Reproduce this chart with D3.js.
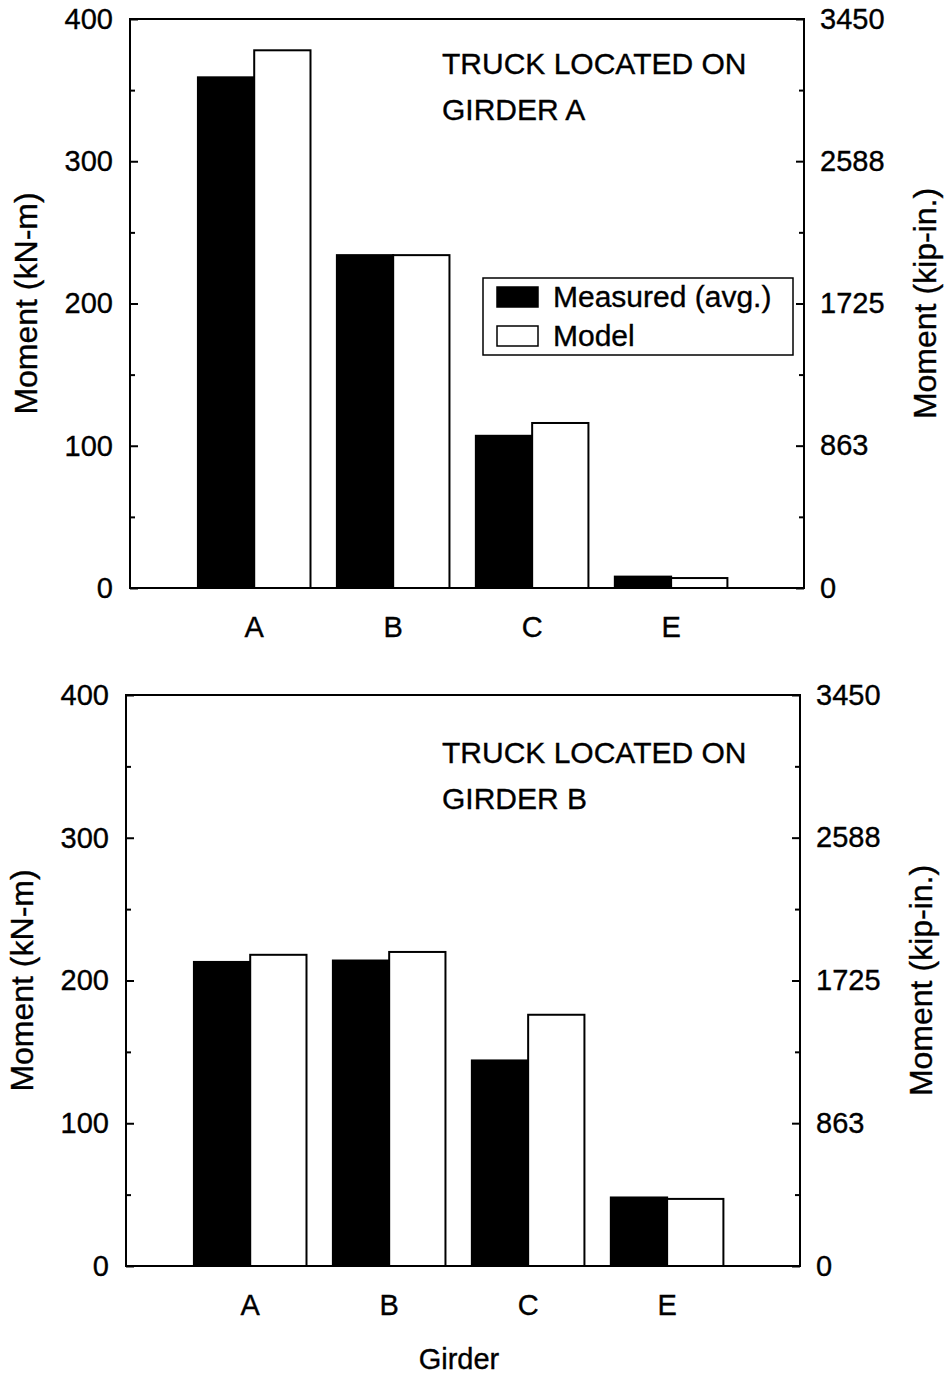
<!DOCTYPE html>
<html>
<head>
<meta charset="utf-8">
<script src="https://cdn.jsdelivr.net/npm/d3@7/dist/d3.min.js"></script>
<style>
  html, body { margin: 0; padding: 0; background: #fff; }
  svg { display: block; }
  text { font-family: "Liberation Sans", Arial, Helvetica, sans-serif; fill: #000; stroke: #000; stroke-width: 0.35; }
</style>
</head>
<body>
<svg id="chart" width="944" height="1376"></svg>
<script>
// Girders along the x axis
const girders = ["A", "B", "C", "E"];

// Truck on girder A: moments (kN-m)
const measuredTruckA = [359, 234, 107, 8];
const modelTruckA = [378, 234, 116, 7];

// Truck on girder B: moments (kN-m)
const measuredTruckB = [213, 214, 144, 48];
const modelTruckB = [218, 220, 176, 47];

// Axis ticks
const leftTicks = [0, 100, 200, 300, 400];
const leftMinorTicks = [50, 150, 250, 350];
const rightTicks = [0, 863, 1725, 2588, 3450];

const seriesNames = ["Measured (avg.)", "Model"];
const seriesFill = ["#000", "#fff"];

const FONT = 29;
const TITLE_FONT = 32;
const NOTE_FONT = 30;
const svg = d3.select("#chart");

function drawPanel(p) {
  const g = svg.append("g");

  const x = d3.scaleBand()
    .domain(girders)
    .range([p.left, p.right])
    .paddingInner(0.19)
    .paddingOuter(0.52)
    .align(0.47);

  const xs = d3.scaleBand()
    .domain(seriesNames)
    .range([0, x.bandwidth()]);

  const y = d3.scaleLinear().domain([0, 400]).range([p.bottom, p.top]);
  const yR = d3.scaleLinear().domain([0, 3450]).range([p.bottom, p.top]);

  // bars
  const rows = girders.map((k, i) => ({
    girder: k,
    values: [p.measured[i], p.model[i]]
  }));

  const grp = g.selectAll("g.girder")
    .data(rows)
    .join("g")
    .attr("class", "girder")
    .attr("transform", d => `translate(${x(d.girder)},0)`);

  grp.selectAll("rect")
    .data(d => d.values.map((v, j) => ({ name: seriesNames[j], v, j })))
    .join("rect")
    .attr("x", d => xs(d.name))
    .attr("width", xs.bandwidth())
    .attr("y", d => y(d.v))
    .attr("height", d => y(0) - y(d.v))
    .attr("fill", d => seriesFill[d.j])
    .attr("stroke", "#000")
    .attr("stroke-width", 2);

  // frame
  g.append("rect")
    .attr("x", p.left).attr("y", p.top)
    .attr("width", p.right - p.left).attr("height", p.bottom - p.top)
    .attr("fill", "none").attr("stroke", "#000").attr("stroke-width", 2);

  // left axis (ticks inward)
  const la = g.append("g").attr("transform", `translate(${p.left},0)`)
    .call(d3.axisLeft(y).tickValues(leftTicks).tickSize(-8).tickPadding(17).tickFormat(d3.format("d")));
  la.append("g").call(d3.axisLeft(y).tickValues(leftMinorTicks).tickSize(-5).tickFormat(""));

  // right axis (ticks inward)
  const rightMinor = d3.pairs(rightTicks).map(([a, b]) => (a + b) / 2);
  const ra = g.append("g").attr("transform", `translate(${p.right},0)`)
    .call(d3.axisRight(yR).tickValues(rightTicks).tickSize(-8).tickPadding(16).tickFormat(d3.format("d")));
  ra.append("g").call(d3.axisRight(yR).tickValues(rightMinor).tickSize(-5).tickFormat(""));

  // bottom category labels
  g.append("g").attr("transform", `translate(0,${p.bottom})`)
    .call(d3.axisBottom(x).tickSize(0).tickPadding(28));

  g.selectAll(".domain").remove();
  g.selectAll(".tick line").attr("stroke", "#000").attr("stroke-width", 2);
  g.selectAll(".tick text")
    .attr("font-size", FONT)
    .attr("font-family", '"Liberation Sans", Arial, sans-serif')
    .attr("fill", "#000");

  // axis titles
  g.append("text")
    .attr("transform", `translate(${p.left - 93},${(p.top + p.bottom) / 2}) rotate(-90)`)
    .attr("text-anchor", "middle")
    .attr("font-size", TITLE_FONT)
    .text("Moment (kN-m)");

  g.append("text")
    .attr("transform", `translate(${p.right + 132},${(p.top + p.bottom) / 2}) rotate(-90)`)
    .attr("text-anchor", "middle")
    .attr("font-size", TITLE_FONT)
    .text("Moment (kip-in.)");

  // annotation
  g.append("text")
    .attr("x", p.noteX).attr("y", p.noteY)
    .attr("font-size", NOTE_FONT)
    .selectAll("tspan")
    .data(p.note)
    .join("tspan")
    .attr("x", p.noteX)
    .attr("dy", (d, i) => i === 0 ? 0 : 46)
    .text(d => d);

  return { x, y };
}

drawPanel({
  left: 130, right: 804, top: 19, bottom: 588,
  measured: measuredTruckA, model: modelTruckA,
  note: ["TRUCK LOCATED ON", "GIRDER A"], noteX: 442, noteY: 74
});

drawPanel({
  left: 126, right: 800, top: 695, bottom: 1266,
  measured: measuredTruckB, model: modelTruckB,
  note: ["TRUCK LOCATED ON", "GIRDER B"], noteX: 442, noteY: 763
});

// legend (upper panel)
const lg = svg.append("g").attr("transform", "translate(483,278)");
lg.append("rect")
  .attr("width", 310).attr("height", 77)
  .attr("fill", "#fff").attr("stroke", "#000").attr("stroke-width", 1.5);
const li = lg.selectAll("g.item")
  .data(seriesNames)
  .join("g")
  .attr("class", "item")
  .attr("transform", (d, i) => `translate(14,${9 + i * 39})`);
li.append("rect")
  .attr("width", 41).attr("height", 20)
  .attr("fill", (d, i) => seriesFill[i])
  .attr("stroke", "#000").attr("stroke-width", 1.5);
li.append("text")
  .attr("x", 56).attr("y", 20)
  .attr("font-size", NOTE_FONT)
  .text(d => d);

// shared x-axis title
svg.append("text")
  .attr("x", 459).attr("y", 1369)
  .attr("text-anchor", "middle")
  .attr("font-size", FONT)
  .text("Girder");
</script>
</body>
</html>
